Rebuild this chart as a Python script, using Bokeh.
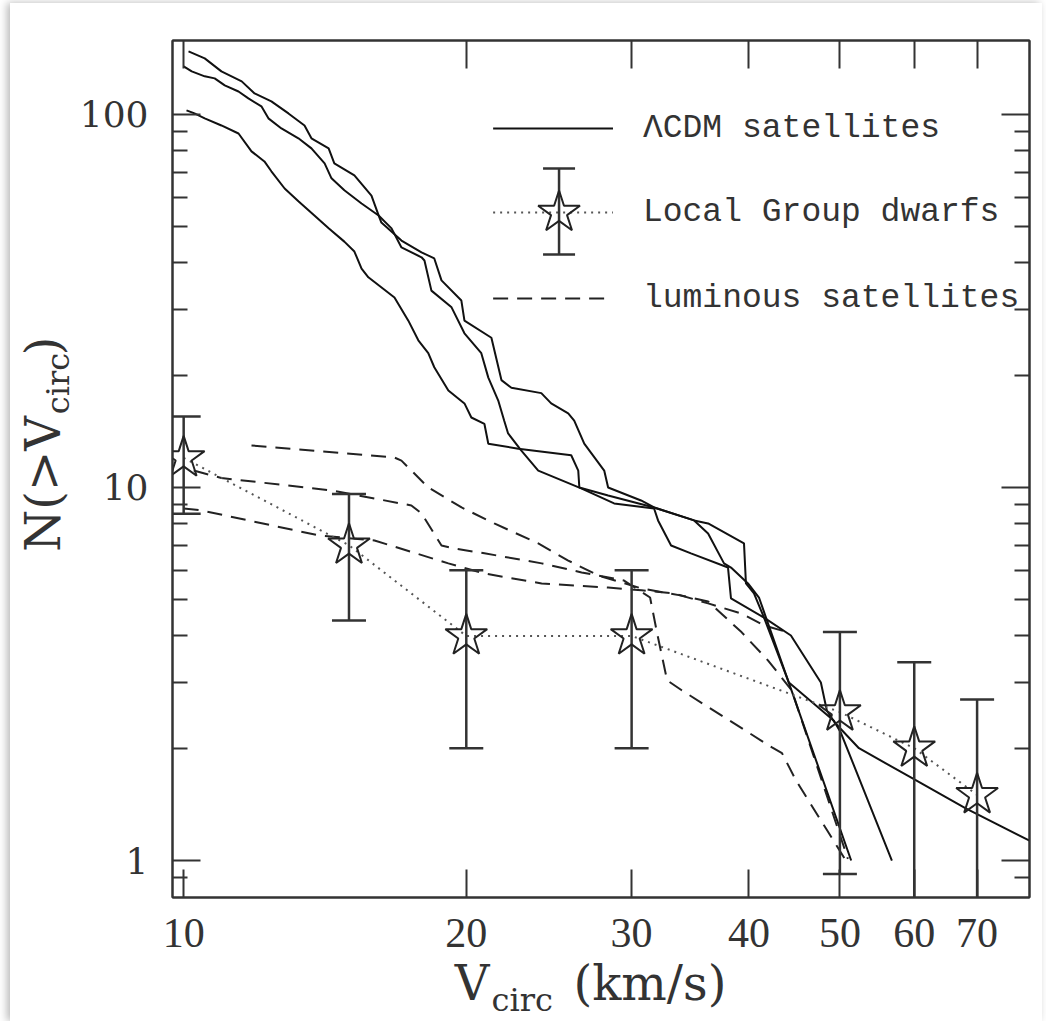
import math
from bokeh.plotting import figure
from bokeh.models import Range1d, FixedTicker, LogAxis, CustomJSTickFormatter
from bokeh.layouts import column, row
from bokeh.core.properties import value
from bokeh.embed import file_html
from bokeh.resources import INLINE

# ---------------- data ----------------
# LambdaCDM satellites: three cumulative curves N(>Vcirc)
lcdm_1_v = [10.12, 10.53, 10.97, 11.53, 11.90, 12.40, 12.93, 13.45, 13.68, 14.27,
            14.47, 15.20, 15.85, 16.13, 16.24, 17.06, 17.92, 18.49, 18.82, 19.76,
            19.91, 21.27, 21.80, 22.34, 24.04, 24.63, 25.68, 26.06, 26.71, 28.05,
            28.32, 30.70, 31.70, 34.97, 36.19, 37.63, 38.28, 39.91, 41.00, 41.71, 51.4]
lcdm_1_n = [147.5, 141.3, 130.4, 122.6, 113.8, 108.4, 100.6, 93.4, 86.3, 81.1,
            73.9, 68.6, 60.6, 53.6, 51.3, 45.9, 42.7, 41.1, 35.9, 31.7,
            28.0, 25.2, 19.4, 18.5, 17.9, 16.8, 15.8, 15.1, 13.1, 11.1,
            10.0, 9.23, 8.84, 8.16, 7.53, 6.26, 6.10, 5.53, 5.07, 4.48, 1.0]

lcdm_2_v = [10.0, 10.2, 10.53, 10.79, 11.06, 11.44, 11.72, 12.10, 12.31, 12.71,
            13.25, 13.68, 14.13, 14.37, 14.83, 15.47, 16.13, 16.65, 17.06, 17.92,
            18.05, 18.36, 19.29, 19.91, 20.75, 21.11, 21.63, 21.95, 22.16, 22.88,
            23.86, 26.51, 28.74, 31.70, 32.01, 33.05, 34.70, 38.00, 38.28, 41.51,
            44.12, 49.27, 50.12, 56.8]
lcdm_2_n = [134.5, 130.4, 126.5, 124.9, 119.6, 115.2, 110.4, 105.1, 97.6, 91.7,
            86.3, 81.1, 73.9, 67.4, 62.6, 57.7, 53.6, 49.5, 44.0, 41.4,
            40.6, 33.7, 30.4, 25.9, 22.9, 19.7, 17.1, 15.1, 13.96, 12.57,
            11.1, 9.94, 9.06, 8.78, 8.16, 6.99, 6.66, 6.10, 5.04, 4.48,
            3.00, 2.37, 2.20, 1.0]

lcdm_3_v = [10.07, 10.27, 10.53, 10.97, 11.44, 11.81, 12.19, 12.40, 12.81, 13.25,
            13.78, 14.27, 14.83, 15.20, 15.47, 15.73, 16.77, 17.35, 17.78, 18.22,
            18.49, 19.14, 19.91, 20.25, 20.91, 21.11, 22.72, 25.87, 26.32, 26.39,
            28.32, 31.70, 34.97, 36.19, 39.52, 39.71, 40.50, 41.51, 44.34, 47.72,
            48.43, 49.39, 52.39, 59.50, 68.08, 79.6]
lcdm_3_n = [102.5, 100.6, 97.6, 93.4, 88.9, 79.6, 74.8, 70.4, 63.3, 58.5,
            53.6, 49.5, 45.6, 42.9, 38.6, 36.6, 32.3, 28.0, 24.8, 22.9,
            21.0, 18.2, 16.8, 15.4, 14.8, 13.1, 12.7, 12.2, 11.1, 10.0,
            9.52, 8.84, 8.16, 8.01, 7.08, 5.53, 5.20, 4.48, 4.01, 3.00,
            2.52, 2.34, 2.00, 1.67, 1.38, 1.13]

# luminous satellites (dashed)
lum_1_v = [11.81, 16.77, 17.06, 18.22, 19.77, 21.42, 23.86, 25.68, 27.64, 30.75,
           33.92, 36.19, 39.30, 41.91, 44.43, 50.99]
lum_1_n = [12.96, 12.03, 11.8, 10.0, 8.84, 8.01, 7.08, 6.37, 5.81, 5.36,
           5.13, 4.95, 4.09, 3.44, 2.86, 1.01]
lum_2_v = [10.25, 10.97, 14.37, 17.48, 17.92, 18.82, 19.42, 20.91, 24.06, 26.54,
           29.45, 31.39, 31.94, 32.73, 33.92, 42.33, 43.38, 44.89, 50.62]
lum_2_n = [11.1, 10.6, 9.82, 8.95, 8.52, 6.99, 6.86, 6.66, 6.26, 5.92,
           5.63, 5.07, 4.06, 3.04, 2.86, 2.01, 1.94, 1.64, 1.01]
lum_3_v = [10.0, 10.45, 13.92, 15.97, 19.14, 20.91, 24.06, 28.32, 30.75, 33.29,
           36.19, 39.30, 41.51, 44.01]
lum_3_n = [8.78, 8.68, 7.44, 7.21, 6.26, 5.88, 5.53, 5.39, 5.30, 5.20,
           4.89, 4.59, 4.27, 4.09]

# Local Group dwarfs (stars with error bars)
lg_v = [10, 15, 20, 30, 50, 60, 70]
lg_n = [12, 7, 4, 4, 2.5, 2, 1.5]
lg_hi = [15.5, 9.6, 6.0, 6.0, 4.1, 3.4, 2.7]
lg_lo = [8.5, 4.4, 2.0, 2.0, 0.92, 0.59, 0.28]

x_ticks = [10, 20, 30, 40, 50, 60, 70]
y_ticks = [1, 10, 100]
y_minor = [0.9, 2, 3, 4, 5, 6, 7, 8, 9, 20, 30, 40, 50, 60, 70, 80, 90]
legend_labels = ["\u039bCDM satellites", "Local Group dwarfs", "luminous satellites"]

# ---------------- geometry (page pixels) ----------------
XLO, XHI = 9.73, 79.6
YLO, YHI = 0.796, 157.8
CL, CT, CW, CH = 10, 3, 1032, 1018      # card
FL, FR, FT, FB = 171, 1029, 40, 897     # plot frame
LW = 66                                 # left title strip width
BOT = 69                                # space for x tick labels under the frame
H1 = FB + BOT - CT                      # height of the top row
OV = 16                                 # bottom strip reaches up under the tick labels
H2 = CH - H1 + OV                       # height of the bottom title strip
WM = CW - LW


def px2x(px):
    a, b = math.log10(XLO), math.log10(XHI)
    return 10 ** (a + (px - FL) / (FR - FL) * (b - a))


def py2y(py):
    a, b = math.log10(YLO), math.log10(YHI)
    return 10 ** (b - (py - FT) / (FB - FT) * (b - a))


INK = "#333333"

p = figure(width=WM, height=H1, x_axis_type="log", y_axis_type="log",
           x_range=Range1d(XLO, XHI), y_range=Range1d(YLO, YHI),
           output_backend="svg", toolbar_location=None,
           min_border_left=FL - CL - LW, min_border_right=CL + CW - FR,
           min_border_top=FT - CT, min_border_bottom=BOT)
p.background_fill_color = "white"
p.border_fill_color = "white"
p.xgrid.visible = False
p.ygrid.visible = False
p.outline_line_color = INK
p.outline_line_width = 2

xt = FixedTicker(ticks=x_ticks, minor_ticks=[])
yt = FixedTicker(ticks=y_ticks, minor_ticks=y_minor)


def style(ax):
    ax.axis_line_color = INK
    ax.axis_line_width = 2
    ax.major_tick_line_color = INK
    ax.major_tick_line_width = 2
    ax.minor_tick_line_color = INK
    ax.minor_tick_line_width = 2
    ax.major_tick_in = 28
    ax.major_tick_out = 0
    ax.minor_tick_in = 15
    ax.minor_tick_out = 0


bx = p.xaxis[0]
bx.ticker = xt
bx.formatter = CustomJSTickFormatter(code="return String(tick)")
bx.major_label_text_font = "Liberation Serif"
bx.major_label_text_font_size = "42px"
bx.major_label_text_color = INK
bx.major_label_standoff = 21
style(bx)

ly = p.yaxis[0]
ly.ticker = yt
ly.formatter = CustomJSTickFormatter(code="return String(tick)")
ly.major_label_text_font = "DejaVu Serif"
ly.major_label_text_font_size = "36px"
ly.major_label_text_color = INK
ly.major_label_standoff = 24
style(ly)

blank = "return ''"
top = LogAxis(ticker=xt, formatter=CustomJSTickFormatter(code=blank), major_label_standoff=0)
style(top)
p.add_layout(top, "above")
right = LogAxis(ticker=yt, formatter=CustomJSTickFormatter(code=blank), major_label_standoff=0)
style(right)
p.add_layout(right, "right")

# ---------------- marks ----------------
DASH = "15 9"
for v, n in [(lum_1_v, lum_1_n), (lum_2_v, lum_2_n), (lum_3_v, lum_3_n)]:
    p.line(v, n, line_color="#222222", line_width=2, line_dash=DASH)

for v, n in [(lcdm_1_v, lcdm_1_n), (lcdm_2_v, lcdm_2_n), (lcdm_3_v, lcdm_3_n)]:
    p.line(v, n, line_color="#111111", line_width=2)

p.line(lg_v, lg_n, line_color="#555555", line_width=2, line_dash="2 5")
p.segment(x0=lg_v, y0=lg_lo, x1=lg_v, y1=lg_hi, line_color=INK, line_width=2.5)
p.scatter(lg_v, lg_hi, marker="dash", size=34, line_color=INK, line_width=2.5)
p.scatter(lg_v, lg_lo, marker="dash", size=34, line_color=INK, line_width=2.5)
p.scatter(lg_v, lg_n, marker="star", size=44, fill_color=None, line_color="#222222", line_width=2)

# ---------------- legend (drawn by hand) ----------------
k0, k1, kc = px2x(492), px2x(612), px2x(558)
r1, r2, r3 = py2y(128), py2y(212), py2y(298)
p.line([k0, k1], [r1, r1], line_color="#111111", line_width=2)
p.line([k0, k1], [r2, r2], line_color="#555555", line_width=2, line_dash="2 5")
p.segment(x0=[kc], y0=[py2y(254)], x1=[kc], y1=[py2y(168)], line_color=INK, line_width=2.5)
p.scatter([kc, kc], [py2y(168), py2y(254)], marker="dash", size=32, line_color=INK, line_width=2.5)
p.scatter([kc], [r2], marker="star", size=44, fill_color=None, line_color="#222222", line_width=2)
p.line([k0, k1], [r3, r3], line_color="#222222", line_width=2, line_dash=DASH)
p.text(x=[px2x(642)] * 3, y=[r1, r2, r3], text=legend_labels,
       text_font=value("Liberation Mono"), text_font_size=value("33px"),
       text_baseline="middle", text_align="left", text_color=INK)


# ---------------- axis titles in plain strips ----------------
def strip(w, h, fill):
    f = figure(width=w, height=h, x_range=Range1d(0, w), y_range=Range1d(0, h),
               output_backend="svg", toolbar_location=None,
               x_axis_location=None, y_axis_location=None, min_border=0)
    f.xgrid.visible = False
    f.ygrid.visible = False
    f.outline_line_color = None
    f.background_fill_color = fill
    f.border_fill_color = fill
    return f


TF = value("DejaVu Serif")
BIG, SMALL = 48, 32
SHIFT = 0.3   # the glyph baseline lands about 0.3 em past the anchor

# left strip: page x = CL + local x, page y = CT + (H1 - local y)
left = strip(LW, H1, "white")


def lx(px, size):
    return px - CL - SHIFT * size


def ly_(py):
    return H1 - (py - CT)


left.text(x=[lx(57, BIG)], y=[ly_(425)], text=["N(>V"], angle=math.pi / 2, text_font=TF,
          text_font_size=value(f"{BIG}px"), text_align="right", text_baseline="alphabetic", text_color=INK)
left.text(x=[lx(67, SMALL)], y=[ly_(423)], text=["circ"], angle=math.pi / 2, text_font=TF,
          text_font_size=value(f"{SMALL}px"), text_align="left", text_baseline="alphabetic", text_color=INK)
left.text(x=[lx(57, BIG)], y=[ly_(357)], text=[")"], angle=math.pi / 2, text_font=TF,
          text_font_size=value(f"{BIG}px"), text_align="left", text_baseline="alphabetic", text_color=INK)

# bottom strip (transparent, pulled up by OV): page y = CT + H1 - OV + (H2 - local y)
bottom = strip(CW, H2, None)
bottom.margin = (-OV, 0, 0, 0)
S_TOP = CT + H1 - OV


def bx_(px):
    return px - CL


def by_(py, size):
    return H2 - (py - SHIFT * size - S_TOP)


bottom.text(x=[bx_(489)], y=[by_(997, BIG)], text=["V"], text_font=TF, text_font_size=value(f"{BIG}px"),
            text_align="right", text_baseline="alphabetic", text_color=INK)
bottom.text(x=[bx_(491)], y=[by_(1009, SMALL)], text=["circ"], text_font=TF, text_font_size=value(f"{SMALL}px"),
            text_align="left", text_baseline="alphabetic", text_color=INK)
bottom.text(x=[bx_(573)], y=[by_(997, BIG)], text=["(km/s)"], text_font=TF, text_font_size=value(f"{BIG}px"),
            text_align="left", text_baseline="alphabetic", text_color=INK)

root = column(row(left, p, spacing=0), bottom, spacing=0)
root.margin = (CT, 1046 - CL - CW, 0, CL)
root.styles = {"box-shadow": "-3px 0px 8px rgba(0,0,0,0.28)", "background-color": "white"}

open("out.html", "w").write(file_html(root, INLINE))
